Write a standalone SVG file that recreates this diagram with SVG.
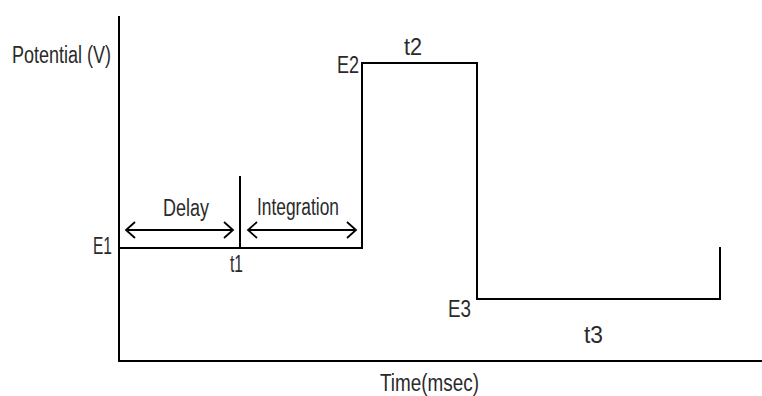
<svg xmlns="http://www.w3.org/2000/svg" width="762" height="396" viewBox="0 0 762 396">
<style>
text{font-family:"Liberation Sans Narrow","Liberation Sans",Arial,sans-serif;font-size:23px;fill:#2a2a2a}
.ln{stroke:#000;stroke-width:2;fill:none}
.ar{stroke:#000;stroke-width:1.8;fill:none}
</style>
<defs>
<marker id="chev" viewBox="-11 -10 13 20" markerWidth="13" markerHeight="20" refX="0" refY="0" orient="auto-start-reverse" markerUnits="userSpaceOnUse">
<path d="M-9,-8 L0,0 L-9,8" stroke="#000" stroke-width="1.8" fill="none"/>
</marker>
</defs>
<rect width="762" height="396" fill="#fff"/>
<g id="axes">
<line class="ln" x1="119" y1="16" x2="119" y2="362"/>
<line class="ln" x1="118" y1="361" x2="762" y2="361"/>
<text x="12" y="63" textLength="99" lengthAdjust="spacingAndGlyphs">Potential (V)</text>
<text x="380" y="391" textLength="99" lengthAdjust="spacingAndGlyphs">Time(msec)</text>
</g>
<g id="connectors">
<polyline class="ln" points="119,248 362,248 362,63 477,63 477,299 720,299 720,247"/>
<line class="ln" x1="240" y1="176" x2="240" y2="248"/>
<line class="ar" x1="126" y1="230" x2="233" y2="230" marker-start="url(#chev)" marker-end="url(#chev)"/>
<line class="ar" x1="248" y1="230" x2="356" y2="230" marker-start="url(#chev)" marker-end="url(#chev)"/>
</g>
<g id="labels">
<text x="93" y="254" textLength="19" lengthAdjust="spacingAndGlyphs">E1</text>
<text x="337" y="73" textLength="22" lengthAdjust="spacingAndGlyphs">E2</text>
<text x="448" y="317" textLength="23" lengthAdjust="spacingAndGlyphs">E3</text>
<text x="230" y="272" textLength="13" lengthAdjust="spacingAndGlyphs">t1</text>
<text x="404" y="55" textLength="18" lengthAdjust="spacingAndGlyphs">t2</text>
<text x="584" y="343" textLength="19" lengthAdjust="spacingAndGlyphs">t3</text>
<text x="163" y="216" textLength="46" lengthAdjust="spacingAndGlyphs">Delay</text>
<text x="257" y="215" textLength="82" lengthAdjust="spacingAndGlyphs">Integration</text>
</g>
</svg>
